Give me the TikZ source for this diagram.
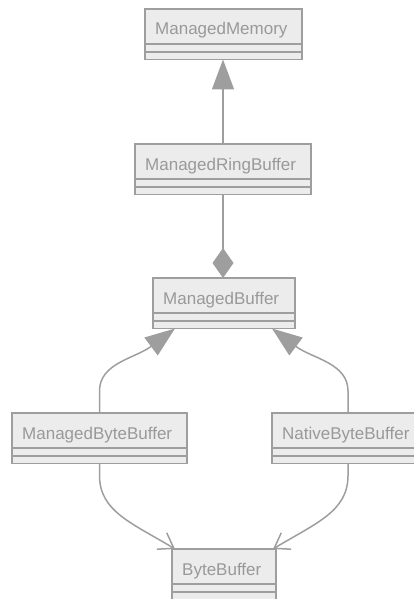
\documentclass[tikz,border=0pt]{standalone}
\usepackage{fontspec}
\setmainfont{Liberation Sans}
\usetikzlibrary{arrows.meta,calc}
\definecolor{clsfill}{HTML}{ECECEC}
\definecolor{clsline}{HTML}{9E9E9E}
\definecolor{clstext}{HTML}{999999}
\newcommand{\umlclass}[5]{%
  \node[clsbox, minimum width={(#4-#2)*1pt}, anchor=north west] (#1) at (#2,-#3) {};
  \draw[clsline, line width=1.5pt] ([yshift=-35pt]#1.north west) -- ([yshift=-35pt]#1.north east);
  \draw[clsline, line width=1.5pt] ([yshift=-43pt]#1.north west) -- ([yshift=-43pt]#1.north east);
  \node[clslabel, anchor=base west] (#1-t) at ([xshift=10pt,yshift=-26pt]#1.north west) {#5};
}
\begin{document}
\begin{tikzpicture}[x=1pt,y=1pt,
  clsbox/.style={draw=clsline, fill=clsfill, line width=1.5pt, minimum height=50.5pt, inner sep=0pt, outer sep=0pt},
  clslabel/.style={text=clstext, font=\fontsize{17}{20}\selectfont, inner sep=0pt},
  edge/.style={draw=clsline, line width=1.5pt},
  ext/.style={edge, -{Triangle[length=30pt,width=22pt,fill=clsline]}},
  comp/.style={edge, -{Diamond[length=30pt,width=21pt,fill=clsline]}},
  assoc/.style={edge, -{Straight Barb[length=14pt,width=19pt]}}]
\useasboundingbox (0,0) rectangle (414,-599);
\clip (0,0) rectangle (414,-599);
\umlclass{mm}{145}{9}{302}{ManagedMemory}
\umlclass{rb}{135}{144}{311}{ManagedRingBuffer}
\umlclass{mb}{153}{278}{295}{ManagedBuffer}
\umlclass{mbb}{12}{413}{187}{ManagedByteBuffer}
\umlclass{nbb}{272}{413}{424}{NativeByteBuffer}
\umlclass{bb}{172}{549}{276}{ByteBuffer}
\draw[ext] (rb.north) -- (rb.north |- mm.south);
\draw[comp] (rb.south) -- (rb.south |- mb.north);
\coordinate (mbL) at ([xshift=22pt]mb.south west);
\coordinate (mbR) at ([xshift=-23pt]mb.south east);
\draw[ext] (mbb.north) -- ++(0,22) .. controls ++(0,28) and ($(mbL)+(-40,-30)$) .. (mbL);
\draw[ext] (nbb.north) -- ++(0,22) .. controls ++(0,28) and ($(mbR)+(40,-30)$) .. (mbR);
\draw[assoc] (mbb.south) -- ++(0,-12) .. controls ++(0,-36) and ($(bb.north west)+(-40,26)$) .. ([xshift=3pt]bb.north west);
\draw[assoc] (nbb.south) -- ++(0,-12) .. controls ++(0,-36) and ($(bb.north east)+(40,26)$) .. ([xshift=-3pt]bb.north east);
\end{tikzpicture}
\end{document}
